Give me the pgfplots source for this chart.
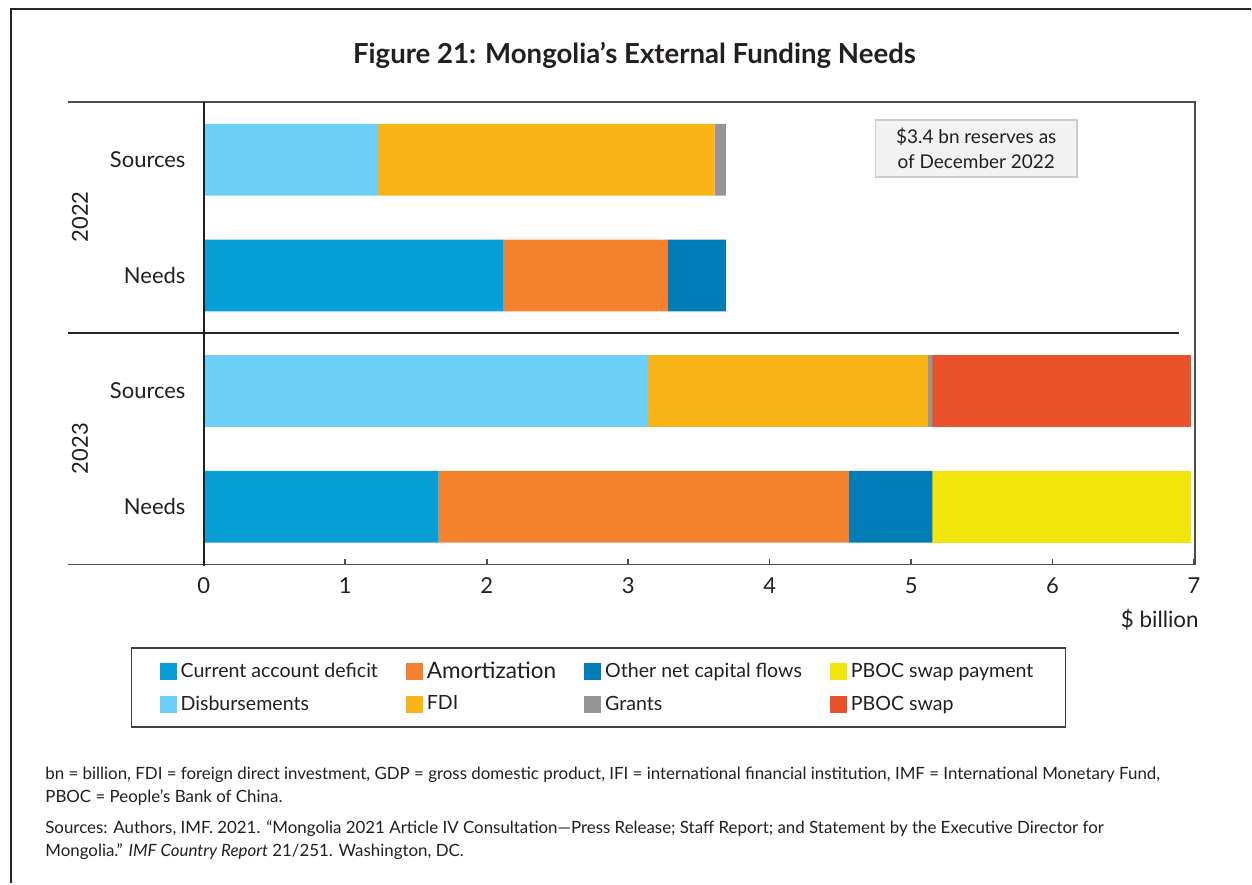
\documentclass[border=0pt]{standalone}
\usepackage{fontspec}
\setmainfont{Lato}
\usepackage{pgfplots}
\usepackage{pgfplotstable}
\pgfplotsset{compat=1.18}

\definecolor{cCAD}{HTML}{089FD6}
\definecolor{cAmort}{HTML}{F3812D}
\definecolor{cOther}{HTML}{007DB7}
\definecolor{cPBOCpay}{HTML}{F1E50A}
\definecolor{cDisb}{HTML}{6CCFF6}
\definecolor{cFDI}{HTML}{F9B418}
\definecolor{cGrants}{HTML}{939598}
\definecolor{cPBOC}{HTML}{E9512B}
\definecolor{txt}{HTML}{231F20}

% rows: 0 = Needs 2023, 1 = Sources 2023, 2 = Needs 2022, 3 = Sources 2022 ($ billion)
\pgfplotstableread{
y cad  amort other pbocpay disb fdi  grants pboc
0 1.66 2.90  0.59  1.83    0    0    0      0
1 0    0     0     0       3.14 1.98 0.03   1.83
2 2.12 1.16  0.41  0       0    0    0      0
3 0    0     0     0       1.23 2.38 0.08   0
}\fundtable

\begin{document}
\begin{tikzpicture}
% 1 px of the reference = 0.5pt
\begin{scope}[x=0.5pt,y=-0.5pt]
\useasboundingbox (0,0) rectangle (1252,884);
\end{scope}

\begin{axis}[
  at={(102pt,-282.5pt)}, anchor=south west,
  scale only axis, width=495.5pt, height=231.5pt,
  xbar stacked, bar width=0.62,
  xmin=0, xmax=7, ymin=-0.5, ymax=3.5,
  axis line style={draw=none},
  xtick={0,1,...,7}, xticklabels={0,1,2,3,4,5,6,7},
  ytick={0,1,2,3}, yticklabels={Needs,Sources,Needs,Sources},
  xtick pos=bottom, ytick style={draw=none},
  tick align=inside, major tick length=3pt,
  xtick style={draw=black!70, line width=0.8pt},
  xticklabel style={font=\fontsize{11}{13}\selectfont, text=txt, yshift=-3pt},
  yticklabel style={font=\fontsize{11}{13}\selectfont, text=txt, inner sep=0pt, xshift=-9pt},
  clip=false,
  legend columns=4,
  legend cell align=left,
  legend image code/.code={\fill[#1] (0pt,-4.25pt) rectangle (8.5pt,4.25pt);},
  legend style={at={(-0.0737,-0.179)}, anchor=north west,
    draw=black!75, line width=0.8pt, inner xsep=14pt, inner ysep=5pt,
    font=\fontsize{9.8}{11}\selectfont, text=txt, row sep=3pt,
    /tikz/every even column/.append style={column sep=12pt}},
]
\addplot[fill=cCAD, draw=none] table[x=cad, y=y] {\fundtable};
\addplot[fill=cAmort, draw=none] table[x=amort, y=y] {\fundtable};
\addplot[fill=cOther, draw=none] table[x=other, y=y] {\fundtable};
\addplot[fill=cPBOCpay, draw=none] table[x=pbocpay, y=y] {\fundtable};
\addplot[fill=cDisb, draw=none] table[x=disb, y=y] {\fundtable};
\addplot[fill=cFDI, draw=none] table[x=fdi, y=y] {\fundtable};
\addplot[fill=cGrants, draw=none] table[x=grants, y=y] {\fundtable};
\addplot[fill=cPBOC, draw=none] table[x=pboc, y=y] {\fundtable};
\legend{Current account deficit, {\fontsize{11.3}{13}\selectfont Amortization}, Other net capital flows, PBOC swap payment,
  Disbursements, FDI, Grants, PBOC swap}
\end{axis}

\begin{scope}[x=0.5pt,y=-0.5pt]
% outer frame
\draw[line width=1pt, black!85] (11,884) -- (11,9) -- (1252,9);
% axis frame
\draw[line width=0.8pt, black!70] (68,102) -- (1196,102) -- (1196,565);
\draw[line width=0.8pt, black!70] (68,565) -- (1196,565);
\draw[line width=0.8pt, black!85] (68,333) -- (1180,333);
\draw[line width=1pt, txt] (204,102) -- (204,566);

\node[font=\fontsize{13.8}{16}\selectfont\bfseries, text=txt] at (635,55)
  {Figure 21: Mongolia’s External Funding Needs};
\node[rotate=90, font=\fontsize{11}{13}\selectfont, text=txt] at (80,217) {2022};
\node[rotate=90, font=\fontsize{11}{13}\selectfont, text=txt] at (80,449) {2023};
\node[draw=black!20, fill=black!5, line width=0.8pt, minimum width=101pt,
  minimum height=28.5pt, align=center, inner sep=0pt,
  font=\fontsize{9.5}{12.5}\selectfont, text=txt] at (977,148.5)
  {\$3.4 bn reserves as\\of December 2022};
\node[anchor=east, inner sep=0pt, font=\fontsize{11.2}{13}\selectfont, text=txt] at (1200,620) {\$ billion};

\begin{scope}[every node/.style={anchor=west, inner sep=0pt,
    font=\fontsize{8.45}{10}\selectfont, text=txt}]
\node at (45,775) {bn = billion, FDI = foreign direct investment, GDP = gross domestic product, IFI = international financial institution, IMF = International Monetary Fund,};
\node at (45,798) {PBOC = People’s Bank of China.};
\node at (45,829) {Sources: Authors, IMF. 2021. “Mongolia 2021 Article IV Consultation—Press Release; Staff Report; and Statement by the Executive Director for};
\node at (45,852) {Mongolia.” \textit{IMF Country Report} 21/251. Washington, DC.};
\end{scope}
\end{scope}
\end{tikzpicture}
\end{document}
